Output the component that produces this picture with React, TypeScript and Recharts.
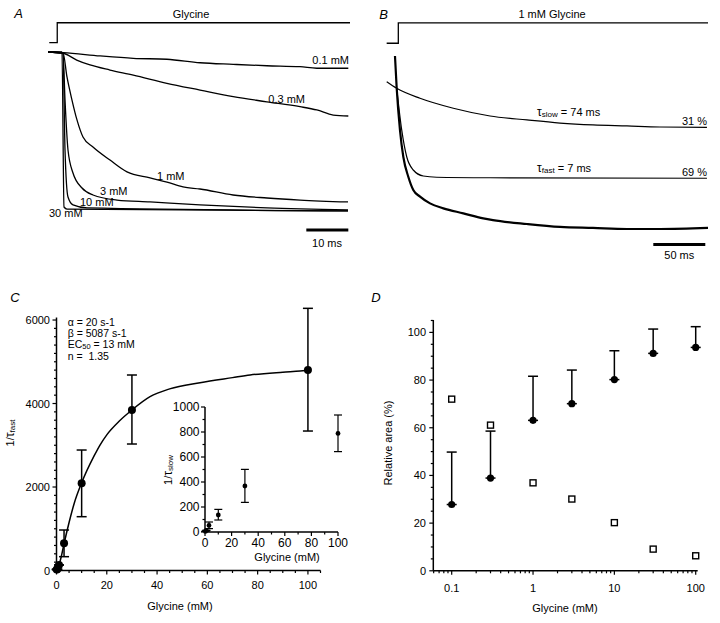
import React from 'react';
import { LineChart, ComposedChart, ScatterChart, Line, Scatter, XAxis, YAxis, ErrorBar, ReferenceDot, ReferenceLine } from 'recharts';

const FONT = '"Liberation Sans", Arial, Helvetica, sans-serif';

// ---------- Panel A: currents at several glycine concentrations (t in ms, normalised current) ----------
const aStepT = [0.3, 2.2, 2.2, 71.9];
const aStepV = [1.059, 1.059, 1.185, 1.185];
const aT01 = [0, 3.65, 12.4, 20.3, 28.3, 36.2, 44.1, 52.1, 60, 64, 71.5];
const aV01 = [1, 0.996, 0.975, 0.96, 0.954, 0.932, 0.922, 0.913, 0.907, 0.897, 0.897];
const aT03 = [0, 3.65, 6.83, 10, 14.76, 20.3, 28.3, 36.2, 44.1, 52.1, 60, 64, 67.9, 71.5];
const aV03 = [1, 0.992, 0.949, 0.918, 0.886, 0.854, 0.802, 0.759, 0.717, 0.685, 0.654, 0.633, 0.601, 0.595];
const aT1 = [0, 3.57, 4.52, 5.71, 6.9, 8.33, 10.71, 14.76, 18.81, 24.29, 28.33, 32.14, 36.19, 44.05, 52.14, 60, 71.43];
const aV1 = [1, 0.994, 0.842, 0.696, 0.57, 0.462, 0.399, 0.316, 0.241, 0.203, 0.177, 0.146, 0.133, 0.095, 0.076, 0.063, 0.051];
const aT3 = [0, 3.57, 4.05, 4.76, 5.95, 8.1, 10.71, 16.43, 24.29, 36.19, 52.14, 71.43];
const aV3 = [1, 0.994, 0.696, 0.38, 0.234, 0.139, 0.095, 0.063, 0.051, 0.032, 0.013, 0.0];
const aT10 = [0, 3.57, 4.05, 4.76, 5.95, 9.29, 71.43];
const aV10 = [1, 0.994, 0.38, 0.082, 0.032, 0.013, -0.006];
const aT30 = [0, 3.33, 3.81, 4.52, 71.43];
const aV30 = [1, 1, 0.019, 0.006, -0.006];
const aBarT = [61.5, 71.5];
const aBarV = [-0.127, -0.127];

// ---------- Panel B: 1 mM glycine with fits (t in ms) ----------
const bStepT = [1.6, 12.8, 12.8, 310.6];
const bStepV = [1.08, 1.08, 1.198, 1.198];
const bDataT = [9.6, 11.25, 14.4, 17.6, 22.4, 27.2, 33.7, 43.3, 56.1, 75.3, 94.5, 103.8, 136.5, 168.3, 200, 232.7, 264.4, 310.6];
const bDataV = [1.006, 0.818, 0.575, 0.42, 0.304, 0.227, 0.188, 0.149, 0.12, 0.091, 0.062, 0.052, 0.029, 0.012, 0.006, 0, 0, 0.006];
const bSlowT = [1.63, 11.25, 33.65, 65.7, 101, 136.5, 168.3, 200, 232.7, 264.4, 309.6];
const bSlowV = [0.856, 0.818, 0.76, 0.702, 0.657, 0.634, 0.616, 0.605, 0.599, 0.593, 0.591];
const bFastT = [11.25, 16.06, 20.87, 27.2, 36.8, 49.7, 101, 309.6];
const bFastV = [0.818, 0.576, 0.42, 0.343, 0.308, 0.301, 0.298, 0.295];
const bBarT = [258, 308];
const bBarV = [-0.09, -0.09];

// ---------- Panel C: 1/tau_fast vs glycine ----------
const cConc = [0.1, 0.3, 1, 3, 10, 30, 100];
const cFast = [25, 30, 132, 651, 2088, 3844, 4802];
const cFastLow = [25, 30, 132, 331, 1289, 3030, 3341];
const cFastHigh = [25, 30, 132, 970, 2886, 4683, 6280];
const cFitX = [0, 1, 2, 3, 5, 7, 10, 15, 17.3, 20, 25, 30, 37.2, 45, 57.1, 70, 77, 90, 96.9, 100];
const cFitY = [0, 130, 360, 640, 1150, 1600, 2100, 2750, 3006, 3250, 3580, 3844, 4163, 4350, 4499, 4620, 4683, 4750, 4778, 4795];
const cXTicks = [0, 5, 10, 15, 20, 25, 30, 35, 40, 45, 50, 55, 60, 65, 70, 75, 80, 85, 90, 95, 100, 105];
const cXMajor = [0, 20, 40, 60, 80, 100];
const cYTicks = Array.from({ length: 31 }, (_, i) => i * 200);
const cYMajor = [0, 2000, 4000, 6000];

// inset: 1/tau_slow
const insConc = [0.3, 1, 3, 10, 30, 100];
const insSlow = [5, 13, 53, 136, 368, 789];
const insLow = [5, 13, 27, 96, 237, 643];
const insHigh = [5, 13, 80, 181, 501, 936];
const insXTicks = [0, 10, 20, 30, 40, 50, 60, 70, 80, 90, 100];
const insXMajor = [0, 20, 40, 60, 80, 100];
const insYTicks = [0, 100, 200, 300, 400, 500, 600, 700, 800, 900, 1000];
const insYMajor = [0, 200, 400, 600, 800, 1000];

// ---------- Panel D: relative areas ----------
const dConc = [0.1, 0.3, 1, 3, 10, 30, 100];
const dFastArea = [27.8, 38.9, 63.1, 70.1, 80.2, 91.2, 93.7];
const dFastUpper = [49.8, 58.6, 81.6, 84.2, 92.3, 101.4, 102.4];
const dSlowArea = [72, 61.1, 36.9, 30.1, 20.2, 9.1, 6.3];
const dXTicks = [0.06, 0.07, 0.08, 0.09, 0.1, 0.2, 0.3, 0.4, 0.5, 0.6, 0.7, 0.8, 0.9, 1, 2, 3, 4, 5, 6, 7, 8, 9, 10, 20, 30, 40, 50, 60, 70, 80, 90, 100];
const dXMajor = [0.1, 1, 10, 100];
const dYTicks = [0, 5, 10, 15, 20, 25, 30, 35, 40, 45, 50, 55, 60, 65, 70, 75, 80, 85, 90, 95, 100, 105];
const dYMajor = [0, 20, 40, 60, 80, 100];

// ---------- helpers ----------
const zipTV = (ts: number[], vs: number[]) => ts.map((t, i) => ({ t, v: vs[i] }));

type TxtOpts = { anchor?: 'start' | 'middle' | 'end'; size?: number; italic?: boolean; rotate?: boolean };
function txt(x: number, y: number, content: React.ReactNode, o: TxtOpts = {}) {
  return (
    <ReferenceDot
      x={x}
      y={y}
      r={0}
      ifOverflow="visible"
      shape={(p: any) => (
        <text
          x={p.cx}
          y={p.cy}
          textAnchor={o.anchor ?? 'start'}
          dominantBaseline="central"
          fontSize={o.size ?? 11}
          fontFamily={FONT}
          fontStyle={o.italic ? 'italic' : 'normal'}
          fill="#000"
          transform={o.rotate ? `rotate(-90 ${p.cx} ${p.cy})` : undefined}
        >
          {content}
        </text>
      )}
    />
  );
}

function yTick(axisX: number, majors: number[], gap: number, fs = 11) {
  return (props: any) => {
    const { y, payload } = props;
    const v = payload.value as number;
    const major = majors.includes(v);
    return (
      <g>
        <line x1={axisX - (major ? 4 : 2.5)} x2={axisX} y1={y} y2={y} stroke="#000" strokeWidth={1.2} />
        {major ? (
          <text x={axisX - gap} y={y} textAnchor="end" dominantBaseline="central" fontSize={fs} fontFamily={FONT} fill="#000">
            {v}
          </text>
        ) : null}
      </g>
    );
  };
}

function xTick(axisY: number, majors: number[], gap: number, fs = 11) {
  return (props: any) => {
    const { x, payload } = props;
    const v = payload.value as number;
    const major = majors.includes(v);
    return (
      <g>
        <line x1={x} x2={x} y1={axisY} y2={axisY + (major ? 4 : 2.5)} stroke="#000" strokeWidth={1.2} />
        {major ? (
          <text x={x} y={axisY + gap} textAnchor="middle" dominantBaseline="central" fontSize={fs} fontFamily={FONT} fill="#000">
            {v}
          </text>
        ) : null}
      </g>
    );
  };
}

const axisLineStyle = { stroke: '#000', strokeWidth: 1.5 };

export default function App() {
  const cPoints = cConc.map((x, i) => ({ x, y: cFast[i], err: [cFast[i] - cFastLow[i], cFastHigh[i] - cFast[i]] }));
  const cFit = cFitX.map((x, i) => ({ x, y: cFitY[i] }));
  const insPoints = insConc.map((x, i) => ({ x, y: insSlow[i], err: [insSlow[i] - insLow[i], insHigh[i] - insSlow[i]] }));
  const dFastPts = dConc.map((x, i) => ({ x, y: dFastArea[i], err: [0, dFastUpper[i] - dFastArea[i]] }));
  const dSlowPts = dConc.map((x, i) => ({ x, y: dSlowArea[i] }));

  const traceProps = { dataKey: 'v', type: 'monotone' as const, stroke: '#000', strokeWidth: 1.3, dot: false, activeDot: false, isAnimationActive: false };

  return (
    <div style={{ position: 'absolute', left: 0, top: 0, width: 720, height: 623, background: '#fff', fontFamily: FONT }}>
      {/* Panel A */}
      <div style={{ position: 'absolute', left: 0, top: 0 }}>
        <LineChart width={360} height={260} margin={{ top: 4.6, right: 10, bottom: 2.6, left: 48 }}>
          <XAxis type="number" dataKey="t" domain={[0, 71.9]} hide allowDataOverflow />
          <YAxis type="number" domain={[-0.3, 1.3]} hide allowDataOverflow />
          <Line {...traceProps} type="linear" data={zipTV(aStepT, aStepV)} />
          <Line {...traceProps} data={zipTV(aT01, aV01)} />
          <Line {...traceProps} data={zipTV(aT03, aV03)} />
          <Line {...traceProps} data={zipTV(aT1, aV1)} />
          <Line {...traceProps} data={zipTV(aT3, aV3)} />
          <Line {...traceProps} data={zipTV(aT10, aV10)} />
          <Line {...traceProps} data={zipTV(aT30, aV30)} />
          <Line {...traceProps} type="linear" strokeWidth={3} data={zipTV(aBarT, aBarV)} />
          {txt(-7.0, 1.241, 'A', { anchor: 'middle', size: 13, italic: true })}
          {txt(34.05, 1.241, 'Glycine', { anchor: 'middle' })}
          {txt(71.67, 0.949, '0.1 mM', { anchor: 'end' })}
          {txt(61.19, 0.703, '0.3 mM', { anchor: 'end' })}
          {txt(25.95, 0.215, '1 mM')}
          {txt(12.38, 0.12, '3 mM')}
          {txt(7.62, 0.051, '10 mM')}
          {txt(0.24, -0.019, '30 mM')}
          {txt(66.43, -0.209, '10 ms', { anchor: 'middle' })}
        </LineChart>
      </div>

      {/* Panel B */}
      <div style={{ position: 'absolute', left: 360, top: 0 }}>
        <LineChart width={360} height={275} margin={{ top: 5.4, right: 12, bottom: 3, left: 25 }}>
          <XAxis type="number" dataKey="t" domain={[0, 310.6]} hide allowDataOverflow />
          <YAxis type="number" domain={[-0.25, 1.3]} hide allowDataOverflow />
          <Line {...traceProps} type="linear" data={zipTV(bStepT, bStepV)} />
          <Line {...traceProps} strokeWidth={2.2} data={zipTV(bDataT, bDataV)} />
          <Line {...traceProps} strokeWidth={1.2} data={zipTV(bSlowT, bSlowV)} />
          <Line {...traceProps} strokeWidth={1.2} data={zipTV(bFastT, bFastV)} />
          <Line {...traceProps} type="linear" strokeWidth={3} data={zipTV(bBarT, bBarV)} />
          {txt(-1.44, 1.25, 'B', { anchor: 'middle', size: 13, italic: true })}
          {txt(160.6, 1.25, '1 mM Glycine', { anchor: 'middle' })}
          {txt(146.2, 0.68, (
            <>
              <tspan fontSize={12}>τ</tspan>
              <tspan fontSize={8} dy={2}>slow</tspan>
              <tspan dy={-2}> = 74 ms</tspan>
            </>
          ))}
          {txt(309.6, 0.628, '31 %', { anchor: 'end' })}
          {txt(146.2, 0.352, (
            <>
              <tspan fontSize={12}>τ</tspan>
              <tspan fontSize={8} dy={2}>fast</tspan>
              <tspan dy={-2}> = 7 ms</tspan>
            </>
          ))}
          {txt(309.6, 0.331, '69 %', { anchor: 'end' })}
          {txt(283, -0.154, '50 ms', { anchor: 'middle' })}
        </LineChart>
      </div>

      {/* Panel C */}
      <div style={{ position: 'absolute', left: 0, top: 280 }}>
        <ComposedChart width={360} height={343} margin={{ top: 27.5, right: 39.5, bottom: 22.5, left: 6.5 }}>
          <XAxis
            type="number"
            dataKey="x"
            domain={[0, 105]}
            ticks={cXTicks}
            interval={0}
            height={30}
            axisLine={axisLineStyle}
            tickLine={false}
            tick={xTick(290.5, cXMajor, 14.5)}
          />
          <YAxis
            type="number"
            dataKey="y"
            domain={[0, 6300]}
            ticks={cYTicks}
            interval={0}
            width={50}
            axisLine={false}
            tickLine={false}
            tick={yTick(56.5, cYMajor, 6.5)}
          />
          <ReferenceLine segment={[{ x: 0, y: 0 }, { x: 0, y: 6060 }]} stroke="#000" strokeWidth={1.5} ifOverflow="visible" />
          <Line data={cFit} dataKey="y" type="monotone" stroke="#000" strokeWidth={1.5} dot={false} activeDot={false} isAnimationActive={false} />
          <Scatter
            data={cPoints}
            dataKey="y"
            isAnimationActive={false}
            shape={(p: any) => <circle cx={p.cx} cy={p.cy} r={4} fill="#000" />}
          >
            <ErrorBar dataKey="err" direction="y" width={5} stroke="#000" strokeWidth={1.5} />
          </Scatter>
          {txt(-16.5, 6551, 'C', { anchor: 'middle', size: 13, italic: true })}
          {txt(4.45, 5950, 'α = 20 s-1', { size: 10.5 })}
          {txt(4.45, 5690, 'β = 5087 s-1', { size: 10.5 })}
          {txt(4.45, 5425, (
            <>
              EC<tspan fontSize={7.5} dy={1.5}>50</tspan>
              <tspan dy={-1.5}> = 13 mM</tspan>
            </>
          ), { size: 10.5 })}
          {txt(4.45, 5130, 'n = \u00a01.35', { size: 10.5 })}
          {txt(-18.5, 3293, (
            <>
              1/<tspan fontSize={12}>τ</tspan>
              <tspan fontSize={8} dy={2}>fast</tspan>
            </>
          ), { anchor: 'middle', rotate: true })}
          {txt(49.1, -850, 'Glycine (mM)', { anchor: 'middle' })}
        </ComposedChart>
      </div>

      {/* Inset of C */}
      <div style={{ position: 'absolute', left: 160, top: 400 }}>
        <ScatterChart width={190} height={170} margin={{ top: 7, right: 12, bottom: 13, left: 10 }}>
          <XAxis
            type="number"
            dataKey="x"
            domain={[0, 100]}
            ticks={insXTicks}
            interval={0}
            height={25}
            axisLine={axisLineStyle}
            tickLine={false}
            tick={xTick(132, insXMajor, 11, 12)}
          />
          <YAxis
            type="number"
            dataKey="y"
            domain={[0, 1000]}
            ticks={insYTicks}
            interval={0}
            width={35}
            axisLine={axisLineStyle}
            tickLine={false}
            tick={yTick(45, insYMajor, 5.5, 12)}
          />
          <Scatter
            data={insPoints}
            dataKey="y"
            isAnimationActive={false}
            shape={(p: any) => <circle cx={p.cx} cy={p.cy} r={2.4} fill="#000" />}
          >
            <ErrorBar dataKey="err" direction="y" width={4} stroke="#000" strokeWidth={1.2} />
          </Scatter>
          {txt(-27.8, 496, (
            <>
              1/<tspan fontSize={12}>τ</tspan>
              <tspan fontSize={8} dy={2}>slow</tspan>
            </>
          ), { anchor: 'middle', rotate: true })}
          {txt(61.7, -200, 'Glycine (mM)', { anchor: 'middle' })}
        </ScatterChart>
      </div>

      {/* Panel D */}
      <div style={{ position: 'absolute', left: 360, top: 280 }}>
        <ScatterChart width={360} height={343} margin={{ top: 40, right: 22.3, bottom: 22.2, left: 13.3 }}>
          <XAxis
            type="number"
            dataKey="x"
            scale="log"
            domain={[0.0594, 105.8]}
            ticks={dXTicks}
            interval={0}
            height={30}
            axisLine={axisLineStyle}
            tickLine={false}
            tick={xTick(290.8, dXMajor, 17.5)}
          />
          <YAxis
            type="number"
            dataKey="y"
            domain={[0, 105.2]}
            ticks={dYTicks}
            interval={0}
            width={60}
            axisLine={axisLineStyle}
            tickLine={false}
            tick={yTick(73.3, dYMajor, 7.3)}
          />
          <Scatter
            data={dFastPts}
            dataKey="y"
            isAnimationActive={false}
            shape={(p: any) => <circle cx={p.cx} cy={p.cy} r={3.6} fill="#000" />}
          >
            <ErrorBar dataKey="err" direction="y" width={5} stroke="#000" strokeWidth={1.5} />
          </Scatter>
          <Scatter
            data={dSlowPts}
            dataKey="y"
            isAnimationActive={false}
            shape={(p: any) => <rect x={p.cx - 3} y={p.cy - 3} width={6} height={6} fill="#fff" stroke="#000" strokeWidth={1.4} />}
          />
          {txt(0.01173, 114.8, 'D', { anchor: 'middle', size: 13, italic: true })}
          {txt(0.01648, 53.6, 'Relative area (%)', { anchor: 'middle', rotate: true })}
          {txt(2.472, -15.6, 'Glycine (mM)', { anchor: 'middle' })}
        </ScatterChart>
      </div>
    </div>
  );
}
